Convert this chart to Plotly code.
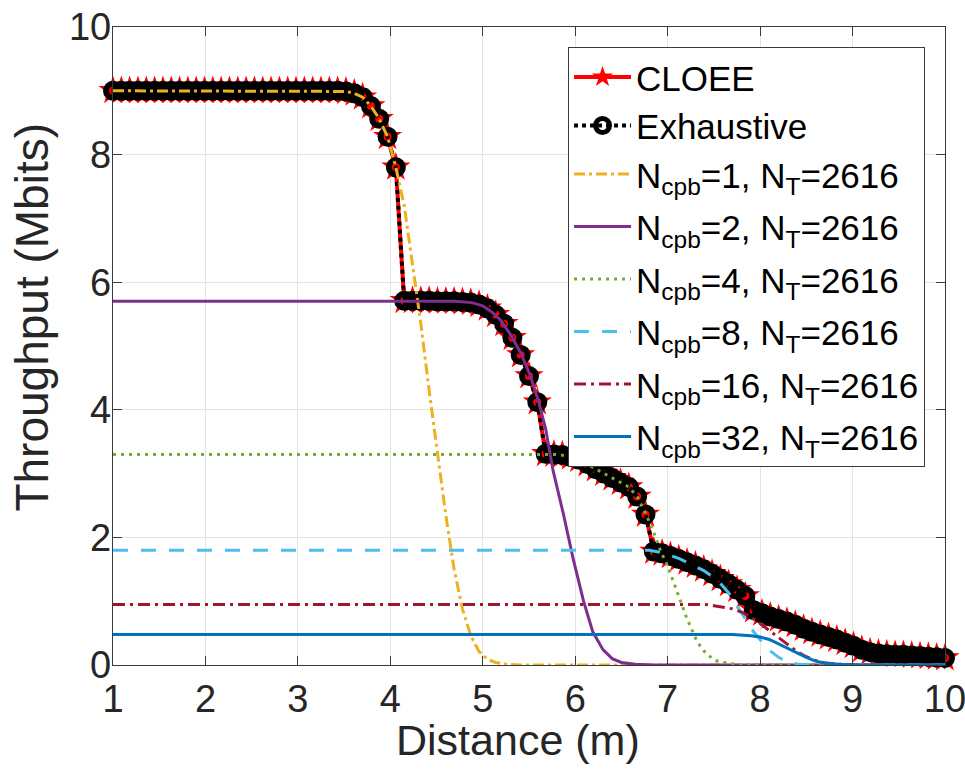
import plotly.graph_objects as go

# Distance grid (m) on which CLOEE and the exhaustive search were evaluated
distance = [
    1.00, 1.09, 1.18, 1.27, 1.36, 1.45, 1.54, 1.63, 1.72, 1.81,
    1.90, 1.99, 2.08, 2.17, 2.26, 2.35, 2.44, 2.53, 2.62, 2.71,
    2.80, 2.89, 2.98, 3.07, 3.16, 3.25, 3.34, 3.43, 3.52, 3.61,
    3.70, 3.79, 3.88, 3.97, 4.06, 4.15, 4.24, 4.33, 4.42, 4.51,
    4.60, 4.69, 4.78, 4.87, 4.96, 5.05, 5.14, 5.23, 5.32, 5.41,
    5.50, 5.59, 5.68, 5.77, 5.86, 5.95, 6.04, 6.13, 6.22, 6.31,
    6.40, 6.49, 6.58, 6.67, 6.76, 6.85, 6.94, 7.03, 7.12, 7.21,
    7.30, 7.39, 7.48, 7.57, 7.66, 7.75, 7.84, 7.93, 8.02, 8.11,
    8.20, 8.29, 8.38, 8.47, 8.56, 8.65, 8.74, 8.83, 8.92, 9.01,
    9.10, 9.19, 9.28, 9.37, 9.46, 9.55, 9.64, 9.73, 9.82, 9.91,
    10.00,
]

# Throughput (Mbits) selected by CLOEE
cloee_tp = [
    9.00, 9.00, 9.00, 9.00, 9.00, 9.00, 9.00, 9.00, 9.00, 9.00,
    9.00, 9.00, 9.00, 9.00, 9.00, 9.00, 9.00, 9.00, 9.00, 9.00,
    9.00, 9.00, 9.00, 9.00, 9.00, 9.00, 9.00, 9.00, 8.99, 8.96,
    8.90, 8.76, 8.56, 8.28, 7.80, 5.71, 5.71, 5.71, 5.71, 5.70,
    5.70, 5.70, 5.69, 5.68, 5.65, 5.59, 5.49, 5.35, 5.13, 4.86,
    4.53, 4.12, 3.31, 3.30, 3.29, 3.26, 3.22, 3.15, 3.07, 3.00,
    2.93, 2.86, 2.79, 2.64, 2.36, 1.78, 1.75, 1.71, 1.66, 1.61,
    1.56, 1.50, 1.43, 1.35, 1.27, 1.18, 1.08, 0.86, 0.81, 0.76,
    0.72, 0.68, 0.63, 0.57, 0.52, 0.48, 0.44, 0.40, 0.35, 0.30,
    0.24, 0.20, 0.18, 0.17, 0.16, 0.16, 0.15, 0.14, 0.13, 0.12,
    0.11,
]

# Throughput (Mbits) found by the exhaustive search
exhaustive_tp = [
    9.00, 9.00, 9.00, 9.00, 9.00, 9.00, 9.00, 9.00, 9.00, 9.00,
    9.00, 9.00, 9.00, 9.00, 9.00, 9.00, 9.00, 9.00, 9.00, 9.00,
    9.00, 9.00, 9.00, 9.00, 9.00, 9.00, 9.00, 9.00, 8.99, 8.96,
    8.90, 8.76, 8.56, 8.28, 7.80, 5.71, 5.71, 5.71, 5.71, 5.70,
    5.70, 5.70, 5.69, 5.68, 5.65, 5.59, 5.49, 5.35, 5.13, 4.86,
    4.53, 4.12, 3.31, 3.30, 3.29, 3.26, 3.22, 3.15, 3.07, 3.00,
    2.93, 2.86, 2.79, 2.64, 2.36, 1.78, 1.75, 1.71, 1.66, 1.61,
    1.56, 1.50, 1.43, 1.35, 1.27, 1.18, 1.08, 0.86, 0.81, 0.76,
    0.72, 0.68, 0.63, 0.57, 0.52, 0.48, 0.44, 0.40, 0.35, 0.30,
    0.24, 0.20, 0.18, 0.17, 0.16, 0.16, 0.15, 0.14, 0.13, 0.12,
    0.11,
]

# Fixed configurations: N_cpb code blocks, N_T = 2616
ncpb1_x = [1.00, 3.40, 3.52, 3.61, 3.70, 3.79, 3.88, 3.97, 4.06, 4.15, 4.24, 4.33,
           4.42, 4.51, 4.60, 4.69, 4.78, 4.87, 4.96, 5.05, 5.14, 5.23, 5.40, 10.00]
ncpb1_tp = [9.00, 9.00, 8.99, 8.96, 8.90, 8.76, 8.56, 8.28, 7.80, 7.20, 6.30, 5.35,
            4.30, 3.32, 2.35, 1.50, 0.88, 0.46, 0.21, 0.09, 0.04, 0.015, 0.00, 0.00]

ncpb2_x = [1.00, 4.70, 4.88, 5.00, 5.10, 5.19, 5.30, 5.41, 5.51, 5.60, 5.68,
           5.76, 5.87, 5.98, 6.09, 6.19, 6.30, 6.40, 6.50, 6.65, 6.85, 10.00]
ncpb2_tp = [5.70, 5.70, 5.68, 5.63, 5.53, 5.41, 5.18, 4.89, 4.55, 4.15, 3.70,
            3.05, 2.38, 1.65, 1.00, 0.52, 0.24, 0.10, 0.04, 0.01, 0.00, 0.00]

ncpb4_x = [1.00, 5.80, 5.90, 6.00, 6.10, 6.20, 6.30, 6.40, 6.50, 6.58, 6.67, 6.76,
           6.85, 6.92, 7.00, 7.10, 7.21, 7.32, 7.42, 7.52, 7.64, 7.80, 10.00]
ncpb4_tp = [3.30, 3.30, 3.28, 3.24, 3.17, 3.09, 3.01, 2.93, 2.86, 2.79, 2.64, 2.38,
            2.08, 1.80, 1.55, 1.17, 0.72, 0.36, 0.17, 0.07, 0.03, 0.00, 0.00]

ncpb8_x = [1.00, 6.80, 6.94, 7.03, 7.12, 7.21, 7.30, 7.39, 7.48, 7.57, 7.66,
           7.75, 7.84, 7.93, 8.02, 8.11, 8.20, 8.29, 8.40, 8.55, 10.00]
ncpb8_tp = [1.80, 1.80, 1.76, 1.72, 1.67, 1.61, 1.55, 1.48, 1.39, 1.28, 1.13,
            0.93, 0.72, 0.52, 0.36, 0.22, 0.12, 0.05, 0.015, 0.00, 0.00]

ncpb16_x = [1.00, 7.40, 7.50, 7.60, 7.70, 7.80, 7.90, 8.00, 8.10, 8.20, 8.30,
            8.40, 8.50, 8.60, 8.70, 8.85, 9.00, 10.00]
ncpb16_tp = [0.95, 0.95, 0.93, 0.91, 0.88, 0.83, 0.75, 0.65, 0.54, 0.42, 0.31,
             0.21, 0.13, 0.07, 0.03, 0.01, 0.00, 0.00]

ncpb32_x = [1.00, 7.70, 7.90, 8.00, 8.10, 8.20, 8.30, 8.40, 8.50, 8.60, 8.70,
            8.85, 9.00, 10.00]
ncpb32_tp = [0.48, 0.48, 0.46, 0.44, 0.40, 0.33, 0.26, 0.18, 0.12, 0.06, 0.03,
             0.01, 0.00, 0.00]

x_ticks = [1, 2, 3, 4, 5, 6, 7, 8, 9, 10]
y_ticks = [0, 2, 4, 6, 8, 10]

FONT = "Liberation Sans, Arial, Helvetica, sans-serif"
TEXT = "#262626"

fig = go.Figure()

fig.add_trace(go.Scatter(
    x=distance, y=cloee_tp, name="CLOEE", mode="lines+markers",
    line=dict(color="#FF0000", width=4),
    marker=dict(symbol="star", size=22, color="#FF0000"),
    cliponaxis=False, legendgroup="top",
))
fig.add_trace(go.Scatter(
    x=distance, y=exhaustive_tp, name="Exhaustive", mode="lines+markers",
    line=dict(color="#000000", width=4, dash="4px,4px"),
    marker=dict(symbol="circle-open", size=14, color="#000000",
                line=dict(width=6, color="#000000")),
    cliponaxis=False, legendgroup="top",
))

fixed_series = [
    (ncpb1_x, ncpb1_tp, "1", "#EDB120", "11px,4px,3px,4px"),
    (ncpb2_x, ncpb2_tp, "2", "#7E2F8E", "solid"),
    (ncpb4_x, ncpb4_tp, "4", "#77AC30", "3px,5px"),
    (ncpb8_x, ncpb8_tp, "8", "#4DBEEE", "15px,13px"),
    (ncpb16_x, ncpb16_tp, "16", "#A2142F", "12px,5px,3px,5px"),
    (ncpb32_x, ncpb32_tp, "32", "#0072BD", "solid"),
]
for xs, ys, n, color, dash in fixed_series:
    fig.add_trace(go.Scatter(
        x=xs, y=ys, mode="lines",
        name=f"N<sub>cpb</sub>={n}, N<sub>T</sub>=2616",
        line=dict(color=color, width=3, dash=dash),
        legendgroup="top" if n == "1" else f"ncpb{n}",
    ))

axis_common = dict(
    showline=True, linecolor="#3a3a3a", linewidth=1.3, mirror="ticks",
    ticks="inside", ticklen=9, tickwidth=1.3, tickcolor="#3a3a3a",
    showgrid=True, gridcolor="#e3e3e3", gridwidth=1, zeroline=False,
    tickfont=dict(family=FONT, size=38, color=TEXT),
    ticklabeloverflow="allow", automargin=False,
)

fig.update_xaxes(
    range=[1, 10], tickvals=x_ticks, ticktext=[str(v) for v in x_ticks],
    ticklabelstandoff=0,
    **axis_common,
)
fig.update_yaxes(
    range=[0, 10], tickvals=y_ticks, ticktext=[str(v) for v in y_ticks],
    ticklabelstandoff=-7,
    **axis_common,
)

# Axis titles
fig.add_annotation(
    text="Distance (m)", xref="paper", yref="paper", x=0.487, y=-0.117,
    xanchor="center", yanchor="middle", showarrow=False,
    font=dict(family=FONT, size=43, color=TEXT),
)
fig.add_annotation(
    text="Throughput (Mbits)", xref="paper", yref="paper", x=-0.097, y=0.545,
    xanchor="center", yanchor="middle", showarrow=False, textangle=-90,
    font=dict(family=FONT, size=46, color=TEXT),
)

fig.update_layout(
    width=965, height=783,
    margin=dict(l=113, r=20, t=27, b=118, autoexpand=False),
    plot_bgcolor="white", paper_bgcolor="white",
    showlegend=True,
    legend=dict(
        x=0.976, y=0.969, xanchor="right", yanchor="top",
        bgcolor="white", bordercolor="#3a3a3a", borderwidth=1,
        font=dict(family=FONT, size=35, color="#000000"),
        itemwidth=57, tracegroupgap=4,
    ),
)

fig.write_html("out.html")
